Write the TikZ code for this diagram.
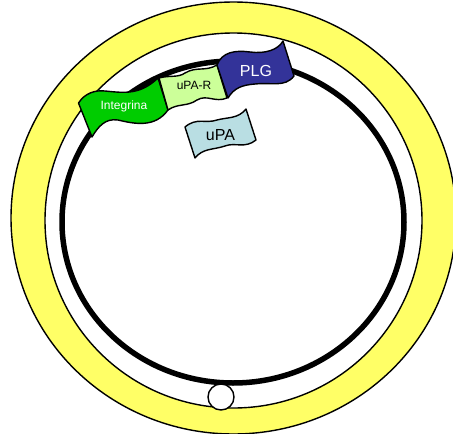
\documentclass[tikz,border=0pt]{standalone}
\usepackage{fontspec}
\setmainfont{Liberation Sans}
\definecolor{ringyellow}{HTML}{FFFF66}
\definecolor{integringreen}{HTML}{00CC00}
\definecolor{receptorgreen}{HTML}{CCFF99}
\definecolor{plgblue}{HTML}{333399}
\definecolor{upablue}{HTML}{B9DEE3}
\tikzset{
  ring/.style={draw=black,line width=1.4pt},
  flag/.style={draw=black,line width=1.4pt,line join=round},
  flaglabel/.style={inner sep=0pt,font=\fontsize{#1}{#1}\selectfont},
}
\begin{document}
\begin{tikzpicture}[x=1pt,y=-1pt]
\useasboundingbox (0,0) rectangle (453,434);
\begin{scope}
  \clip (0,0) rectangle (453,434);
  % Outer band and the inner space it encloses
  \path[ring,fill=ringyellow] (233.5,218) ellipse [x radius=222.5,y radius=216];
  \path[ring,fill=white] (233.5,220.5) ellipse [x radius=188.5,y radius=187.5];
  % Cell membrane
  \draw[line width=5.5pt] (233,222) ellipse [x radius=171,y radius=161];
  % Pore at the bottom of the band
  \node[circle,draw=black,fill=white,line width=1.4pt,minimum size=26pt,inner sep=0pt] (pore) at (221,397) {};
  % Membrane proteins
  \path[flag,fill=integringreen] (78.5,103) .. controls (85,93) and (95,90) .. (105,91)
    .. controls (125,93) and (140,95) .. (158,78) -- (168,110)
    .. controls (155,128) and (135,124) .. (118,120) .. controls (105,118) and (98,127) .. (92,137) -- cycle;
  \path[flag,fill=receptorgreen] (159,78) .. controls (170,75) and (178,78) .. (185,73)
    .. controls (197,66) and (205,72) .. (217,65) -- (227,98)
    .. controls (215,103) and (207,94) .. (197,100) .. controls (187,107) and (178,103) .. (168,110) -- cycle;
  \path[flag,fill=plgblue] (217,65) .. controls (222,52) and (235,50) .. (250,52)
    .. controls (265,54) and (278,50) .. (283,41) -- (294,76)
    .. controls (285,88) and (270,82) .. (255,84) .. controls (242,85) and (234,88) .. (228,98) -- cycle;
  \path[flag,fill=upablue] (185,127) .. controls (197,117) and (205,124) .. (217,120)
    .. controls (228,117) and (238,119) .. (246,109) -- (256,140)
    .. controls (245,149) and (235,142) .. (225,146) .. controls (213,150) and (203,148) .. (195,158) -- cycle;
  \node[flaglabel=12,text=white] (integrina) at (124,106.5) {Integrina};
  \node[flaglabel=12] (upar) at (194,85) {uPA-R};
  \node[flaglabel=16,text=white] (plg) at (256,71) {PLG};
  \node[flaglabel=16] (upa) at (220.5,135) {uPA};
\end{scope}
\end{tikzpicture}
\end{document}
